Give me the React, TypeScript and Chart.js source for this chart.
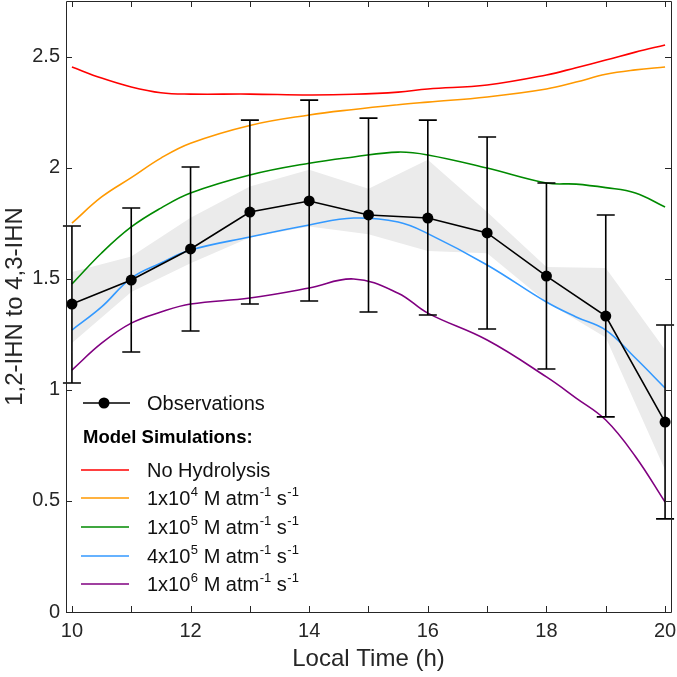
import React, { useEffect, useRef } from "react";
import { Chart, registerables } from "chart.js";

Chart.register(...registerables);

// ---------- data ----------
const obsHours = [10, 11, 12, 13, 14, 15, 16, 17, 18, 19, 20];
const obsMean = [1.386, 1.494, 1.634, 1.8, 1.85, 1.787, 1.773, 1.706, 1.512, 1.332, 0.855];
const obsHigh = [1.737, 1.818, 2.003, 2.214, 2.304, 2.223, 2.214, 2.138, 1.931, 1.787, 1.292];
const obsLow = [1.031, 1.17, 1.265, 1.386, 1.4, 1.35, 1.337, 1.274, 1.094, 0.878, 0.419];
const bandUpper = [1.53, 1.6, 1.775, 1.915, 1.99, 1.905, 2.035, 1.8, 1.553, 1.548, 1.18];
const bandLower = [1.21, 1.44, 1.57, 1.685, 1.735, 1.7, 1.625, 1.615, 1.395, 1.235, 0.64];

const modelHours = [10, 10.5, 11, 11.5, 12, 13, 14, 14.75, 15.5, 16, 17, 18, 18.5, 19, 19.5, 20];
const noHydrolysis = [2.453, 2.403, 2.363, 2.337, 2.331, 2.331, 2.327, 2.33, 2.34, 2.354, 2.372, 2.417, 2.45, 2.484, 2.52, 2.552];
const k1e4 = [1.75, 1.868, 1.955, 2.043, 2.11, 2.19, 2.237, 2.262, 2.283, 2.295, 2.318, 2.354, 2.385, 2.42, 2.44, 2.453];
const k1e5 = [1.476, 1.616, 1.733, 1.818, 1.886, 1.967, 2.02, 2.048, 2.07, 2.057, 1.998, 1.931, 1.926, 1.91, 1.886, 1.823];
const k4e5 = [1.269, 1.373, 1.503, 1.571, 1.629, 1.688, 1.742, 1.773, 1.755, 1.703, 1.562, 1.395, 1.328, 1.269, 1.143, 1.008];
const k1e6 = [1.089, 1.21, 1.3, 1.35, 1.386, 1.413, 1.458, 1.499, 1.435, 1.345, 1.224, 1.058, 0.963, 0.864, 0.7, 0.495];

const xTickValues = [10, 11, 12, 13, 14, 15, 16, 17, 18, 19, 20];
const xLabelValues = [10, 12, 14, 16, 18, 20];
const yTickValues = [0, 0.5, 1, 1.5, 2, 2.5];

const xTitle = "Local Time (h)";
const yTitle = "1,2-IHN to 4,3-IHN";
const obsLabel = "Observations";
const modelHeader = "Model Simulations:";
const modelColors = ["#ff0000", "#ff9900", "#008a00", "#3399ff", "#800080"];
// legend entries: [base, superscript] parts
const modelLegend: Array<Array<[string, string]>> = [
  [["No Hydrolysis", ""]],
  [["1x10", "4"], [" M atm", "-1"], [" s", "-1"]],
  [["1x10", "5"], [" M atm", "-1"], [" s", "-1"]],
  [["4x10", "5"], [" M atm", "-1"], [" s", "-1"]],
  [["1x10", "6"], [" M atm", "-1"], [" s", "-1"]],
];

const AXIS = "#262626";
const FONT = "'Liberation Sans', Arial, Helvetica, sans-serif";

const toXY = (xs: number[], ys: number[]) => xs.map((x, i) => ({ x, y: ys[i] }));

const framePlugin = {
  id: "frame",
  afterDraw(chart: any) {
    const { ctx, chartArea: a, scales } = chart;
    const xs = scales.x, ys = scales.y;
    ctx.save();
    ctx.strokeStyle = AXIS;
    ctx.lineWidth = 1;
    ctx.beginPath();
    ctx.rect(Math.round(a.left) + 0.5, Math.round(a.top) + 0.5, Math.round(a.right - a.left), Math.round(a.bottom - a.top));
    ctx.stroke();
    const tl = 6;
    ctx.beginPath();
    xTickValues.forEach((v) => {
      const px = Math.round(xs.getPixelForValue(v)) + 0.5;
      ctx.moveTo(px, a.bottom);
      ctx.lineTo(px, a.bottom - tl);
      ctx.moveTo(px, a.top);
      ctx.lineTo(px, a.top + tl);
    });
    yTickValues.forEach((v) => {
      const py = Math.round(ys.getPixelForValue(v)) + 0.5;
      ctx.moveTo(a.left, py);
      ctx.lineTo(a.left + tl, py);
      ctx.moveTo(a.right, py);
      ctx.lineTo(a.right - tl, py);
    });
    ctx.stroke();
    ctx.restore();
  },
};

const errorBarPlugin = {
  id: "errbars",
  afterDatasetsDraw(chart: any) {
    const { ctx, scales } = chart;
    const xs = scales.x, ys = scales.y;
    ctx.save();
    ctx.strokeStyle = "#000";
    ctx.lineWidth = 1.6;
    ctx.beginPath();
    obsHours.forEach((h, i) => {
      const px = xs.getPixelForValue(h);
      const yh = ys.getPixelForValue(obsHigh[i]);
      const yl = ys.getPixelForValue(obsLow[i]);
      ctx.moveTo(px, yh);
      ctx.lineTo(px, yl);
      ctx.moveTo(px - 9, yh);
      ctx.lineTo(px + 9, yh);
      ctx.moveTo(px - 9, yl);
      ctx.lineTo(px + 9, yl);
    });
    ctx.stroke();
    ctx.restore();
  },
};

const legendPlugin = {
  id: "customLegend",
  afterDraw(chart: any) {
    const { ctx } = chart;
    ctx.save();
    ctx.textBaseline = "middle";
    ctx.textAlign = "left";
    const oy = 403;
    ctx.strokeStyle = "#000";
    ctx.lineWidth = 1.5;
    ctx.beginPath();
    ctx.moveTo(83, oy);
    ctx.lineTo(130, oy);
    ctx.stroke();
    ctx.fillStyle = "#000";
    ctx.beginPath();
    ctx.arc(104, oy, 5.5, 0, Math.PI * 2);
    ctx.fill();
    ctx.font = `20px ${FONT}`;
    ctx.fillStyle = "#111";
    ctx.fillText(obsLabel, 147, oy + 1);
    ctx.font = `bold 18.5px ${FONT}`;
    ctx.fillStyle = "#000";
    ctx.fillText(modelHeader, 83, 438);
    const rows = [470, 498, 527, 556, 584];
    rows.forEach((ry, i) => {
      ctx.strokeStyle = modelColors[i];
      ctx.lineWidth = 1.5;
      ctx.beginPath();
      ctx.moveTo(81, ry);
      ctx.lineTo(129, ry);
      ctx.stroke();
      let x = 147;
      ctx.fillStyle = "#111";
      modelLegend[i].forEach(([base, sup]) => {
        ctx.font = `20px ${FONT}`;
        ctx.fillText(base, x, ry + 1);
        x += ctx.measureText(base).width;
        if (sup) {
          ctx.font = `13px ${FONT}`;
          ctx.fillText(sup, x + 0.5, ry - 6);
          x += ctx.measureText(sup).width + 0.5;
        }
      });
    });
    ctx.restore();
  },
};

export default function App() {
  const ref = useRef<HTMLCanvasElement>(null);
  useEffect(() => {
    if (!ref.current) return;
    const lineDs = (label: string, ys: number[], color: string) => ({
      label,
      data: toXY(modelHours, ys),
      borderColor: color,
      backgroundColor: color,
      borderWidth: 1.6,
      pointRadius: 0,
      tension: 0.4,
      fill: false,
    });
    const chart = new Chart(ref.current, {
      type: "line",
      data: {
        datasets: [
          {
            label: obsLabel,
            data: toXY(obsHours, obsMean),
            borderColor: "#000",
            backgroundColor: "#000",
            borderWidth: 1.6,
            pointRadius: 5.5,
            pointBackgroundColor: "#000",
            pointBorderWidth: 0,
            tension: 0,
            fill: false,
          },
          lineDs("No Hydrolysis", noHydrolysis, modelColors[0]),
          lineDs("1e4", k1e4, modelColors[1]),
          lineDs("1e5", k1e5, modelColors[2]),
          lineDs("4e5", k4e5, modelColors[3]),
          lineDs("1e6", k1e6, modelColors[4]),
          {
            label: "bandUpper",
            data: toXY(obsHours, bandUpper),
            borderWidth: 0,
            borderColor: "rgba(0,0,0,0)",
            backgroundColor: "#ebebeb",
            pointRadius: 0,
            tension: 0,
            fill: "+1",
          },
          {
            label: "bandLower",
            data: toXY(obsHours, bandLower),
            borderWidth: 0,
            borderColor: "rgba(0,0,0,0)",
            backgroundColor: "#ebebeb",
            pointRadius: 0,
            tension: 0,
            fill: false,
          },
        ],
      },
      options: {
        responsive: false,
        animation: false,
        events: [],
        layout: { autoPadding: false, padding: { left: 0, right: 6, top: 1, bottom: 0 } },
        plugins: { legend: { display: false }, tooltip: { enabled: false } },
        scales: {
          x: {
            type: "linear",
            min: 9.9,
            max: 20.1,
            grid: { display: false, drawTicks: false },
            border: { display: false },
            afterBuildTicks: (s: any) => {
              s.ticks = xLabelValues.map((v) => ({ value: v }));
            },
            afterFit: (s: any) => {
              s.height = 65;
              s.paddingLeft = 0;
              s.paddingRight = 0;
            },
            ticks: {
              color: AXIS,
              font: { family: FONT, size: 20 },
              padding: 7,
              maxRotation: 0,
              autoSkip: false,
              callback: (v: any) => String(v),
            },
            title: {
              display: true,
              text: xTitle,
              color: AXIS,
              font: { family: FONT, size: 24 },
              padding: { top: 0, bottom: 3 },
            },
          },
          y: {
            type: "linear",
            min: 0,
            max: 2.75,
            grid: { display: false, drawTicks: false },
            border: { display: false },
            afterBuildTicks: (s: any) => {
              s.ticks = yTickValues.map((v) => ({ value: v }));
            },
            afterFit: (s: any) => {
              s.width = 66;
              s.paddingTop = 0;
              s.paddingBottom = 0;
            },
            ticks: {
              color: AXIS,
              font: { family: FONT, size: 20 },
              padding: 6,
              autoSkip: false,
              callback: (v: any) => String(v),
            },
            title: {
              display: true,
              text: yTitle,
              color: AXIS,
              font: { family: FONT, size: 24 },
              padding: { top: 1, bottom: 0 },
            },
          },
        },
      },
      plugins: [framePlugin, errorBarPlugin, legendPlugin],
    });
    return () => chart.destroy();
  }, []);
  return (
    <div style={{ position: "fixed", left: 0, top: 0, width: 677, height: 677, background: "#fff" }}>
      <canvas ref={ref} width={677} height={677} style={{ display: "block" }} />
    </div>
  );
}
